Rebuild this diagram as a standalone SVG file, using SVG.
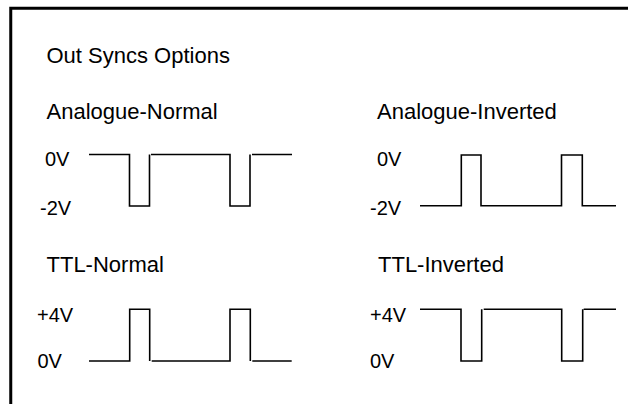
<svg xmlns="http://www.w3.org/2000/svg" width="628" height="405" viewBox="0 0 628 405">
<style>
text{font-family:"Liberation Sans",Arial,sans-serif;fill:#000}
.h{font-size:22px}
.v{font-size:20px}
.w{fill:none;stroke:#000;stroke-width:1.6}
.b{fill:none;stroke:#000;stroke-width:3}
</style>
<rect width="628" height="405" fill="#fff"/>
<g id="frame">
<path class="b" d="M10.75,404 V8.2 H628"/>
</g>
<g id="title"><text class="h" x="46.5" y="62.5">Out Syncs Options</text></g>
<g id="analogue-normal">
<text class="h" x="46.5" y="118.5">Analogue-Normal</text>
<text class="v" x="45" y="165.5">0V</text>
<text class="v" x="40" y="215">-2V</text>
</g>
<g id="analogue-inverted">
<text class="h" x="377" y="118.5">Analogue-Inverted</text>
<text class="v" x="377" y="165.5">0V</text>
<text class="v" x="370" y="215">-2V</text>
</g>
<g id="ttl-normal">
<text class="h" x="46.5" y="271.7">TTL-Normal</text>
<text class="v" x="37" y="321.7">+4V</text>
<text class="v" x="37.5" y="368.3">0V</text>
</g>
<g id="ttl-inverted">
<text class="h" x="378" y="271.7">TTL-Inverted</text>
<text class="v" x="370" y="321.7">+4V</text>
<text class="v" x="370" y="368.3">0V</text>
</g>
<g id="connectors">
<path class="w" d="M89,154.5 H129.5 V206 H149.5 V154.5 M151,154.5 H230 V206 H250 V154.5 M252,154.5 H292"/>
<path class="w" d="M420,205.7 H461.3 V155 H481 V205.7 H561.5 V155 H582.3 V205.7 H616"/>
<path class="w" d="M89,361 H129.7 V309.3 H149.7 V361 M151.7,361 H230 V309.3 H250.3 V361 M252.3,361 H291.7"/>
<path class="w" d="M420,309.3 H461 V361 H481.7 V309.3 M483.7,309.3 H561.7 V361 H582.7 V309.3 M583.7,309.3 H616"/>
</g>
</svg>
